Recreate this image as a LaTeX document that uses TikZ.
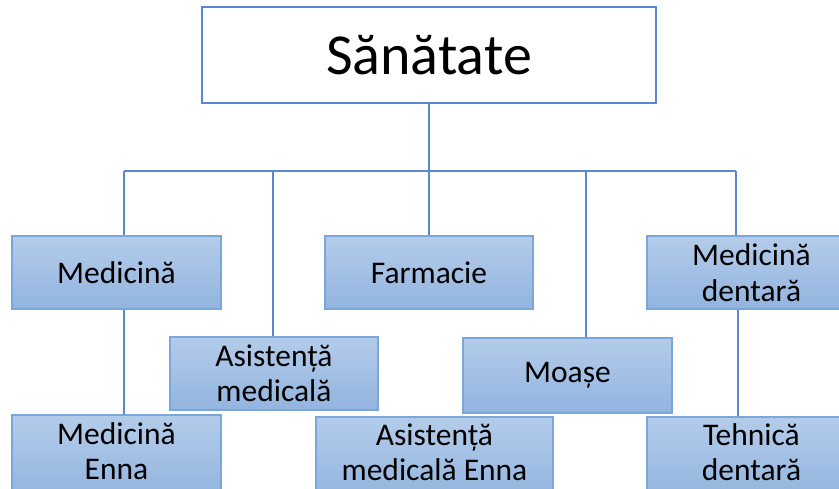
\documentclass[tikz,border=0pt]{standalone}
\usepackage{fontspec}
\setmainfont{Carlito}
\definecolor{linec}{HTML}{5B87D0}
\definecolor{boxtop}{HTML}{B4CCEA}
\definecolor{boxbot}{HTML}{92B4DF}
\definecolor{boxdraw}{HTML}{7BA6DA}
\definecolor{topdraw}{HTML}{5B87D0}
\tikzset{
  sub/.style={draw=boxdraw, line width=1.2pt, top color=boxtop, bottom color=boxbot,
    minimum height=73pt, inner sep=0pt, align=center, font=\fontsize{31.5}{35.5}\selectfont,
    text=black},
  conn/.style={draw=linec, line width=1.2pt}
}
\begin{document}
\begin{tikzpicture}[x=1pt,y=1pt]
\useasboundingbox (0,0) rectangle (839,488);
\clip (0,0) rectangle (839,488);
\fill[white] (0,0) rectangle (839,488);
\node[draw=topdraw, line width=1.2pt, minimum width=454pt, minimum height=96pt, inner sep=0pt,
  font=\fontsize{58}{66}\selectfont] (top) at (429,433) {Sănătate};
\node[sub, minimum width=209pt] (med) at (116.5,215.5) {Medicină};
\node[sub, minimum width=208pt] (farm) at (429,215.5) {Farmacie};
\node[sub, minimum width=209pt] (dent) at (751.5,215.5) {Medicină\\dentară};
\node[sub, minimum width=208pt] (asist) at (274,114.5) {Asistență\\medicală};
\node[sub, minimum width=209pt, minimum height=75pt] (moase) at (567.5,112.5) {Moașe};
\node[sub, minimum width=209pt, minimum height=83pt, text depth=11pt] (medenna) at (116.5,31.5) {Medicină\\Enna};
\node[sub, minimum width=237pt, minimum height=83pt, text depth=13pt] (asenna) at (434.5,29.5) {Asistență\\medicală Enna};
\node[sub, minimum width=209pt, minimum height=83pt, text depth=13pt] (tehn) at (751.5,29.5) {Tehnică\\dentară};
\coordinate (b1) at (124,317);
\coordinate (b2) at (273,317);
\coordinate (b3) at (429,317);
\coordinate (b4) at (586,317);
\coordinate (b5) at (736,317);
\draw[conn] (top.south) -- (b3);
\draw[conn] (b1) -- (b5);
\draw[conn] (b1) -- (b1 |- med.north);
\draw[conn] (b2) -- (b2 |- asist.north);
\draw[conn] (b3) -- (farm.north);
\draw[conn] (b4) -- (b4 |- moase.north);
\draw[conn] (b5) -- (b5 |- dent.north);
\draw[conn] (b1 |- med.south) -- (b1 |- medenna.north);
\coordinate (d1) at (738,0);
\draw[conn] (d1 |- dent.south) -- (d1 |- tehn.north);
\end{tikzpicture}
\end{document}
